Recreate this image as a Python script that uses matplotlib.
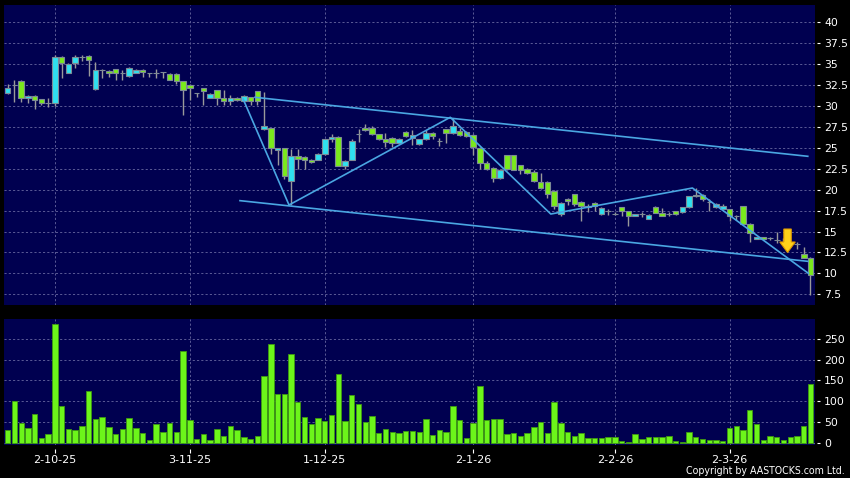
import matplotlib
matplotlib.use('Agg')
import matplotlib.pyplot as plt

# ---------------- data ----------------
open_ = [31.6, 32.5, 33.0, 30.9, 31.2, 30.8, 30.3, 30.3, 35.9, 34.0,
         35.1, 35.8, 36.0, 32.0, 34.3, 34.2, 34.4, 34.0, 33.6, 34.0,
         34.35, 34.0, 34.0, 34.1, 33.85, 33.85, 33.0, 32.55, 31.5, 32.15,
         30.9, 31.95, 31.0, 30.6, 31.0, 30.6, 31.1, 31.75, 27.2, 27.4,
         24.8, 25.0, 21.0, 24.0, 23.9, 23.6, 23.6, 24.3, 26.0, 26.3,
         22.8, 23.6, 26.7, 27.4, 27.4, 26.6, 26.0, 26.2, 25.6, 26.9,
         26.2, 25.4, 26.0, 26.8, 25.8, 27.2, 26.8, 27.0, 26.9, 26.5,
         25.0, 23.2, 22.6, 21.4, 24.1, 24.1, 22.9, 22.5, 22.1, 20.9,
         20.9, 19.9, 17.06, 18.9, 19.5, 18.5, 17.9, 18.45, 17.06, 17.45,
         17.1, 17.9, 17.45, 16.9, 17.1, 16.5, 17.9, 17.25, 17.05, 17.45,
         17.3, 17.9, 19.2, 19.4, 18.5, 17.9, 17.7, 17.7, 16.9, 18.0,
         15.95, 14.15, 14.35, 14.2, 14.0, 13.8, 13.6, 13.55, 12.3, 11.8]
high = [32.6, 33.1, 33.1, 31.3, 31.3, 30.8, 31.0, 36.1, 36.0, 35.1,
        36.1, 36.1, 36.1, 35.3, 34.4, 34.3, 34.4, 34.3, 34.65, 34.4,
        34.4, 34.0, 34.4, 34.1, 33.9, 33.9, 33.0, 32.6, 31.6, 32.2,
        31.6, 31.95, 31.95, 31.3, 31.1, 31.3, 31.1, 31.8, 31.7, 27.4,
        25.0, 25.0, 24.9, 24.9, 24.0, 23.7, 24.4, 26.1, 26.7, 26.4,
        23.5, 26.0, 27.2, 27.8, 27.6, 26.7, 26.8, 26.3, 26.2, 27.0,
        27.1, 26.1, 27.1, 26.9, 26.2, 27.2, 28.6, 27.4, 27.0, 26.6,
        25.1, 23.4, 22.7, 22.5, 24.2, 24.1, 23.0, 22.6, 22.3, 22.0,
        21.0, 20.0, 18.5, 19.0, 19.5, 18.6, 18.3, 18.5, 17.9, 17.7,
        17.3, 17.95, 17.5, 17.15, 17.3, 17.05, 18.0, 17.85, 17.3, 17.5,
        17.95, 19.25, 20.2, 19.45, 18.9, 18.35, 18.3, 17.75, 17.0, 18.05,
        16.0, 14.4, 14.4, 14.4, 14.95, 14.2, 13.8, 13.7, 13.2, 11.9]
low = [31.4, 30.5, 30.5, 30.4, 29.7, 30.1, 29.9, 30.0, 33.3, 33.9,
       34.5, 35.4, 33.6, 31.9, 33.3, 33.5, 33.1, 33.1, 33.5, 33.9,
       33.5, 33.5, 33.3, 33.3, 33.1, 32.6, 28.9, 30.7, 31.1, 30.1,
       30.9, 30.1, 30.1, 30.1, 30.6, 30.5, 30.1, 30.1, 27.1, 24.3,
       22.9, 21.3, 18.15, 22.5, 22.5, 23.2, 23.5, 24.2, 25.7, 22.8,
       22.5, 23.5, 25.7, 27.0, 26.5, 25.9, 25.1, 25.1, 25.5, 26.3,
       25.3, 25.3, 25.9, 26.0, 25.2, 25.6, 26.7, 26.4, 26.3, 24.1,
       22.5, 22.4, 20.9, 21.3, 22.4, 22.3, 21.9, 21.9, 20.9, 20.1,
       19.0, 17.7, 16.8, 18.2, 18.1, 16.3, 17.3, 17.5, 17.0, 17.0,
       17.0, 16.9, 15.7, 16.85, 16.7, 16.45, 17.2, 16.85, 16.9, 17.0,
       17.25, 17.85, 19.15, 18.6, 17.5, 17.85, 17.65, 16.3, 16.4, 15.9,
       13.8, 14.1, 14.1, 14.0, 13.6, 13.5, 13.4, 12.96, 11.8, 7.47]
close = [32.1, 32.5, 30.9, 31.2, 30.7, 30.3, 30.3, 35.9, 35.1, 35.05,
         35.8, 35.8, 35.5, 34.3, 34.3, 34.0, 33.9, 34.0, 34.55, 34.35,
         34.05, 34.0, 34.0, 34.1, 33.15, 33.0, 31.95, 32.15, 31.5, 31.8,
         31.4, 31.0, 30.6, 31.0, 30.75, 31.25, 30.6, 30.6, 27.6, 25.0,
         24.95, 21.6, 24.0, 23.7, 23.5, 23.3, 24.3, 26.0, 26.3, 22.8,
         23.4, 25.8, 26.7, 27.1, 26.6, 26.0, 25.7, 25.6, 26.1, 26.4,
         26.5, 26.0, 26.8, 26.4, 25.8, 26.8, 27.6, 26.5, 26.4, 25.1,
         23.2, 22.5, 21.4, 22.4, 22.5, 22.4, 22.3, 22.0, 21.0, 20.2,
         19.5, 18.0, 18.45, 18.6, 18.3, 18.1, 18.1, 18.05, 17.85, 17.45,
         17.1, 17.5, 16.9, 17.1, 17.1, 17.0, 17.25, 16.9, 17.05, 17.1,
         17.9, 19.2, 19.4, 18.85, 18.5, 18.3, 18.1, 16.9, 16.9, 15.95,
         14.87, 14.35, 14.15, 14.2, 14.0, 13.8, 13.6, 13.55, 11.85, 9.85]
volume = [29.5, 100, 47.4, 36, 69.4, 10.8, 19.8, 285.6, 88, 32,
          29.5, 40, 124.6, 56, 61, 38.5, 20.6, 33.6, 60.4, 34.4,
          23.8, 6.7, 44.2, 25.5, 47.4, 25.5, 222, 54, 8.4, 19.8,
          5, 32, 15, 40.9, 29.5, 12.4, 9.2, 16.5, 161, 237.6,
          117.3, 118, 214, 98.6, 62, 45.8, 59.6, 53, 67, 166,
          51.5, 115, 93, 49, 63.7, 22.2, 33.6, 26.3, 23, 27,
          28.7, 26.3, 58, 17.3, 29.5, 25.5, 89, 55.5, 10, 46.6,
          136, 54.7, 58, 58, 20.6, 23.8, 15.7, 22.2, 37.6, 50,
          23.8, 98.6, 47, 25.5, 15, 23, 10.8, 10, 10, 14,
          14, 4.3, 2, 19.8, 8.4, 12.4, 12.4, 14, 16.5, 4.3,
          1, 25.5, 12.4, 8.4, 5, 5, 3.5, 34.4, 39.3, 31.1,
          78, 45, 6, 15, 12.4, 6, 12.4, 15, 41, 141]

date_ticks = [7, 27, 47, 69, 90, 107]
date_labels = ['2-10-25', '3-11-25', '1-12-25', '2-1-26', '2-2-26', '2-3-26']
price_ticks = [7.5, 10, 12.5, 15, 17.5, 20, 22.5, 25, 27.5, 30, 32.5, 35, 37.5, 40]
price_labels = ['7.5', '10', '12.5', '15', '17.5', '20', '22.5', '25', '27.5',
                '30', '32.5', '35', '37.5', '40']
vol_ticks = [0, 50, 100, 150, 200, 250]
vol_labels = ['0', '50', '100', '150', '200', '250']

# drawn trend lines (index, price)
upper_x = [36.66, 118.6]
upper_y = [31.04, 23.99]
lower_x = [34.43, 118.6]
lower_y = [18.69, 11.44]
zig_x = [34.9, 41.7, 65.6, 80.5, 101.5, 118.7]
zig_y = [30.83, 18.17, 28.65, 17.09, 20.2, 10.0]
arrow_x = 115.6
arrow_top = 15.3
arrow_tip = 12.5

# ---------------- style ----------------
BG = '#000050'
GRID = '#5a5a96'
GREEN = '#7aea1c'
CYAN = '#2fe0ef'
DOJI = '#9aa4ae'
WICK = '#9a9a9a'
EDGE = '#7d8a96'
VOL = '#6cf51a'
VOL_EDGE = '#3f9a12'
LINE = '#4aa6e2'

W, H = 850, 478
fig = plt.figure(figsize=(W / 100, H / 100), dpi=100, facecolor='black')
ax1 = fig.add_axes([4 / W, (H - 305) / H, 811 / W, 300 / H])
ax2 = fig.add_axes([4 / W, (H - 445) / H, 811 / W, 126 / H])

n = len(close)
xs = list(range(n))

for ax in (ax1, ax2):
    ax.set_facecolor(BG)
    ax.set_xlim(-0.55, 119.67)
    for s in ax.spines.values():
        s.set_visible(False)
    ax.set_axisbelow(True)
    ax.grid(True, color=GRID, linestyle=(0, (2.2, 2.2)), linewidth=0.7)
    ax.yaxis.tick_right()
    ax.spines['right'].set_position(('outward', 1.6))
    ax.tick_params(axis='y', colors='white', length=2.4, width=0.8, pad=2.5,
                   labelsize=7.8, labelcolor='white')
    ax.set_xticks(date_ticks)

# ---- candles ----
colors = []
for o, c in zip(open_, close):
    if c > o:
        colors.append(CYAN)
    elif c < o:
        colors.append(GREEN)
    else:
        colors.append(DOJI)
ax1.vlines(xs, low, high, colors=WICK, linewidth=1.0, zorder=2)
heights = [c - o for o, c in zip(open_, close)]
ax1.bar(xs, heights, bottom=open_, width=0.82, color=colors,
        edgecolor=EDGE, linewidth=0.8, zorder=3)

ax1.plot(upper_x, upper_y, color=LINE, linewidth=1.2, zorder=4)
ax1.plot(lower_x, lower_y, color=LINE, linewidth=1.2, zorder=4)
ax1.plot(zig_x, zig_y, color=LINE, linewidth=1.2, zorder=4)
ax1.arrow(arrow_x, arrow_top, 0, arrow_tip - arrow_top, width=1.1,
          head_width=2.3, head_length=1.25, length_includes_head=True,
          facecolor='#ffd21a', edgecolor='#e09a00', linewidth=0.8, zorder=5)

ax1.set_ylim(6.22, 42.07)
ax1.set_yticks(price_ticks)
ax1.set_yticklabels(price_labels)
ax1.tick_params(axis='x', length=0, labelbottom=False)

# ---- volume ----
ax2.bar(xs, volume, width=0.8, color=VOL, edgecolor=VOL_EDGE,
        linewidth=0.6, zorder=3)
ax2.set_ylim(-6, 298.7)
ax2.set_yticks(vol_ticks)
ax2.set_yticklabels(vol_labels)
ax2.spines['bottom'].set_position(('outward', 3))
ax2.tick_params(axis='x', colors='white', length=3, width=0.8, pad=1.5,
                labelsize=8, labelcolor='white')
ax2.set_xticklabels(date_labels)

fig.text(845 / W, (H - 471) / H, 'Copyright by AASTOCKS.com Ltd.',
         ha='right', va='center', color='white', fontsize=7.6,
         family='DejaVu Sans', fontstretch='condensed')

fig.savefig('out.png', dpi=100, facecolor='black')
